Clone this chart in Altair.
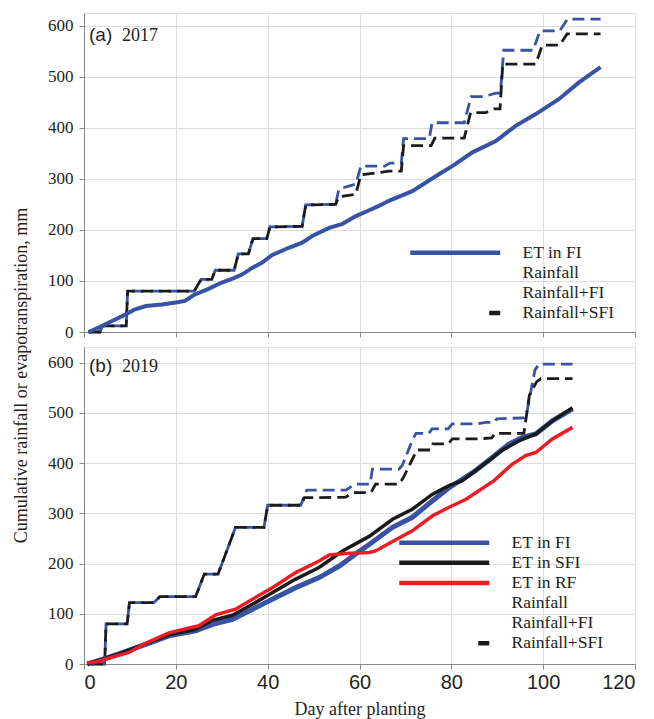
import altair as alt
import pandas as pd

BLUE = "#3953A4"
BLACK = "#1B1B1B"
RED = "#ED1C24"
INK = "#231F20"
SERIF = "Liberation Serif"
SANS = "Liberation Sans"

# ---------------- 2017 season ----------------
ET_FI_17_DAY = [1, 2, 4, 6, 9, 11, 13.5, 17, 20, 22, 24, 27, 30, 32.5, 34.5, 36.7, 38.8, 41, 44.6, 47.5,
                49.7, 53.4, 56.3, 59.2, 62, 64.2, 66.4, 71.5, 77.3, 80.2, 84.6, 89.7, 94, 98.4, 103.4, 107.8, 112.5]
ET_FI_17_MM = [0, 4, 12, 21, 34, 44, 51, 54, 58, 61, 73, 84, 97, 105, 113, 126, 136, 151, 165, 175,
               188, 204, 212, 227, 238, 247, 257, 276, 309, 325, 352, 374, 404, 427, 456, 489, 519]

RAIN_FI_17_DAY = [1, 3.5, 4, 9.2, 9.5, 24, 25.5, 27.8, 28.6, 32.7, 33.6, 35.8, 36.8, 39.8, 40.5, 47.5, 48.3, 54.8,
                  55.5, 59.2, 60.3, 65.5, 66.6, 69.1, 69.6, 75.2, 75.8, 82.8, 84.3, 87, 89.7, 90.7, 91.4, 97.8,
                  99.3, 103.6, 105.3, 112.5]
RAIN_FI_17_MM = [0, 0, 12, 12, 80, 80, 103, 103, 121, 121, 153, 153, 183, 183, 206, 207, 249, 250,
                 280, 290, 325, 325, 331, 331, 379, 379, 410, 410, 461, 461, 468, 468, 552, 552,
                 590, 590, 613, 613]

RAIN_SFI_17_DAY = [1, 3.5, 4, 9.2, 9.5, 24, 25.5, 27.8, 28.6, 32.7, 33.6, 35.8, 36.8, 39.8, 40.5, 47.5, 48.3, 54.8,
                   55.5, 59.2, 60.3, 66.4, 69.1, 69.6, 75.6, 76.4, 82.8, 84.2, 87.5, 89.3, 90.6, 91.2, 98.4,
                   99.8, 103.6, 105.2, 112.5]
RAIN_SFI_17_MM = [0, 0, 12, 12, 80, 80, 103, 103, 121, 121, 153, 153, 183, 183, 206, 207, 249, 250,
                  265, 270, 308, 315, 315, 365, 365, 380, 380, 430, 430, 437, 437, 525, 525,
                  562, 562, 584, 584]

# ---------------- 2019 season ----------------
ET_FI_19_DAY = [0.7, 4, 7.6, 13.4, 18.5, 24.3, 28, 32.3, 36.7, 41, 46.1, 51.2, 55.6, 59.9, 62.1, 67.2,
                71.5, 75.9, 79.5, 85.3, 88.9, 92.6, 95.5, 98.4, 102, 106.4]
ET_FI_19_MM = [0, 9, 20, 39, 56, 66, 79, 89, 109, 129, 152, 172, 195, 224, 238, 272,
               292, 325, 351, 385, 411, 438, 451, 458, 484, 508]

ET_SFI_19_DAY = [0.7, 4, 7.6, 13.4, 18.5, 24.3, 28, 32.3, 36.7, 41, 46.1, 51.2, 56.3, 62.1, 67.2, 71.5,
                 75.9, 79.5, 82.4, 85.3, 88.2, 91, 94.7, 98.4, 102, 106.4]
ET_SFI_19_MM = [0, 9, 20, 40, 58, 69, 87, 97, 119, 142, 169, 192, 225, 254, 288, 308,
                338, 355, 365, 385, 405, 425, 444, 458, 484, 510]

ET_RF_19_DAY = [0.7, 3, 6.2, 9.8, 13.4, 18.5, 22, 25, 28.7, 33, 36.7, 41, 46.1, 51.2, 53.4, 57, 62.1,
                63.5, 67.2, 71.5, 75.9, 79.5, 83.2, 89.3, 93.3, 96.2, 98.4, 102, 106.4]
ET_RF_19_MM = [2, 5, 14, 23, 41, 62, 70, 76, 98, 109, 129, 152, 182, 205, 217, 220, 222,
               225, 244, 265, 295, 312, 328, 365, 398, 415, 421, 448, 471]

RAIN_FI_19_DAY = [1.5, 4.5, 4.8, 9.4, 9.9, 15.2, 16.5, 24.3, 26.2, 29.2, 33, 39.2, 40, 47.2, 48.5, 57, 59,
                  62.3, 62.8, 68.6, 69.3, 71.5, 72.3, 75.1, 75.8, 79.3, 80.2, 85.7, 87.5, 89.3, 89.9, 95.8,
                  96.3, 98.2, 99.1, 106.4]
RAIN_FI_19_MM = [0, 0, 80, 80, 122, 122, 134, 134, 179, 179, 272, 272, 316, 316, 346, 346, 358,
                 358, 388, 388, 395, 445, 459, 459, 468, 468, 478, 478, 481, 481, 488, 490,
                 494, 585, 597, 597]

RAIN_SFI_19_DAY = [1.5, 4.5, 4.8, 9.4, 9.9, 15.2, 16.5, 24.3, 26.2, 29.2, 33, 39.2, 40, 47.2, 48, 57, 58.5,
                   62.5, 63.5, 68.6, 69.5, 72.5, 75.5, 76, 79.3, 80.2, 85.7, 88.8, 89.5, 95.8, 97, 98.6,
                   99.5, 106.4]
RAIN_SFI_19_MM = [0, 0, 80, 80, 122, 122, 134, 134, 179, 179, 272, 272, 316, 316, 331, 332, 341,
                  341, 358, 358, 370, 426, 426, 438, 438, 448, 448, 450, 459, 459, 535, 562,
                  568, 568]

# legend entries (name, colour, sample dash) for each season
LEG_17_NAMES = ["ET in FI", "Rainfall", "Rainfall+FI", "Rainfall+SFI"]
LEG_17_COLORS = [BLUE, "#FFFFFF", BLUE, BLACK]
LEG_19_NAMES = ["ET in FI", "ET in SFI", "ET in RF", "Rainfall", "Rainfall+FI", "Rainfall+SFI"]
LEG_19_COLORS = [BLUE, BLACK, RED, "#FFFFFF", BLUE, BLACK]
SAMPLE_DASH = {"solid": [1, 0], "hidden": [0, 200], "tail": [0, 79, 11, 200]}
LEG_17_DASH = ["solid", "hidden", "hidden", "tail"]
LEG_19_DASH = ["solid", "solid", "solid", "hidden", "hidden", "tail"]

RAIN_DASH = [12, 6]
PW = 551


def frame(name, days, mm):
    return pd.DataFrame({"day": days, "mm": mm, "series": name, "idx": range(len(days))})


def build_panel(lines, names, colors, dashes, ymax, height, tag, year, tag_y, leg_x, leg_y, bottom):
    data = pd.concat([frame(n, d, m) for n, d, m, *_ in lines], ignore_index=True)
    x_axis = alt.Axis(values=list(range(0, 121, 20)), title="Day after planting", labelFont=SANS,
                      labelFontSize=20, titleFont=SERIF, titleFontSize=18, titleFontWeight="normal",
                      titleColor=INK, labelColor=INK, tickSize=5, labelPadding=3, titlePadding=8) if bottom else \
        alt.Axis(values=list(range(0, 121, 20)), labels=False, title=None, tickSize=5)
    x = alt.X("day:Q", scale=alt.Scale(domain=[0, 120], nice=False, zero=False), axis=x_axis)
    y = alt.Y("mm:Q", scale=alt.Scale(domain=[0, ymax], nice=False),
              axis=alt.Axis(values=list(range(0, 601, 100)), title=None, labelFont=SERIF, labelFontSize=17,
                            labelColor=INK, tickSize=5, labelPadding=6))
    base = alt.Chart(data)
    layers = []
    for name, _, _, color, width, dash, offset in lines:
        kw = dict(color=color, strokeWidth=width)
        if dash:
            kw.update(strokeDash=dash, strokeDashOffset=offset)
        layers.append(
            base.transform_filter(alt.datum.series == name)
            .mark_line(**kw)
            .encode(x=x, y=y, order=alt.Order("idx:Q"))
        )
    legend = alt.Legend(title=None, orient="none", legendX=leg_x, legendY=leg_y, symbolType="M-19,0H1",
                        symbolSize=81, symbolStrokeWidth=4.5, labelFont=SERIF, labelFontSize=17.5,
                        labelColor=INK, labelOffset=18, rowPadding=1.1, padding=0)
    key = (
        base.transform_filter("false")
        .mark_line(strokeWidth=4.5)
        .encode(
            x=x, y=y,
            color=alt.Color("series:N", scale=alt.Scale(domain=names, range=colors), legend=legend),
            strokeDash=alt.StrokeDash("series:N",
                                      scale=alt.Scale(domain=names, range=[SAMPLE_DASH[d] for d in dashes]),
                                      legend=legend),
        )
    )
    labels = pd.DataFrame({"tag": [tag], "year": [year]})
    tag_text = alt.Chart(labels).mark_text(font=SANS, fontSize=19, align="left", baseline="alphabetic",
                                           color=INK).encode(x=alt.value(5), y=alt.value(tag_y), text="tag:N")
    year_text = alt.Chart(labels).mark_text(font=SERIF, fontSize=18, align="left", baseline="alphabetic",
                                            color=INK).encode(x=alt.value(38), y=alt.value(tag_y), text="year:N")
    return alt.layer(*layers, key, tag_text, year_text).properties(width=PW, height=height)


panel_a = build_panel(
    [
        ("Rainfall+FI", RAIN_FI_17_DAY, RAIN_FI_17_MM, BLUE, 2.8, RAIN_DASH, 9),
        ("Rainfall+SFI", RAIN_SFI_17_DAY, RAIN_SFI_17_MM, BLACK, 2.8, RAIN_DASH, 0),
        ("ET in FI", ET_FI_17_DAY, ET_FI_17_MM, BLUE, 4, None, 0),
    ],
    LEG_17_NAMES, LEG_17_COLORS, LEG_17_DASH, 625, 319, "(a)", "2017", 28, 403, 231, False,
)

panel_b = build_panel(
    [
        ("Rainfall+FI", RAIN_FI_19_DAY, RAIN_FI_19_MM, BLUE, 2.8, RAIN_DASH, 9),
        ("Rainfall+SFI", RAIN_SFI_19_DAY, RAIN_SFI_19_MM, BLACK, 2.8, RAIN_DASH, 0),
        ("ET in FI", ET_FI_19_DAY, ET_FI_19_MM, BLUE, 5, None, 0),
        ("ET in SFI", ET_SFI_19_DAY, ET_SFI_19_MM, BLACK, 3.5, None, 0),
        ("ET in RF", ET_RF_19_DAY, ET_RF_19_MM, RED, 3.5, None, 0),
    ],
    LEG_19_NAMES, LEG_19_COLORS, LEG_19_DASH, 631, 317, "(b)", "2019", 25, 392, 187, True,
)

chart = (
    alt.vconcat(panel_a, panel_b, spacing=15, bounds="flush")
    .resolve_scale(color="independent", strokeDash="independent")
    .resolve_legend(color="independent", strokeDash="independent")
    .properties(
        title=alt.TitleParams(
            "Cumulative rainfall or evapotranspiration, mm", orient="left", anchor="middle",
            font=SERIF, fontSize=18, fontWeight="normal", color=INK, offset=16, dx=-10,
        ),
        padding={"left": 12, "top": 12, "right": 0, "bottom": 0},
    )
    .configure_view(stroke="black", strokeWidth=1)
    .configure_axis(grid=False, domainColor="black", tickColor="black", domainWidth=1, tickWidth=1)
    .configure(background="white")
)

chart.save("out.html", embed_options={"renderer": "svg", "actions": False})
